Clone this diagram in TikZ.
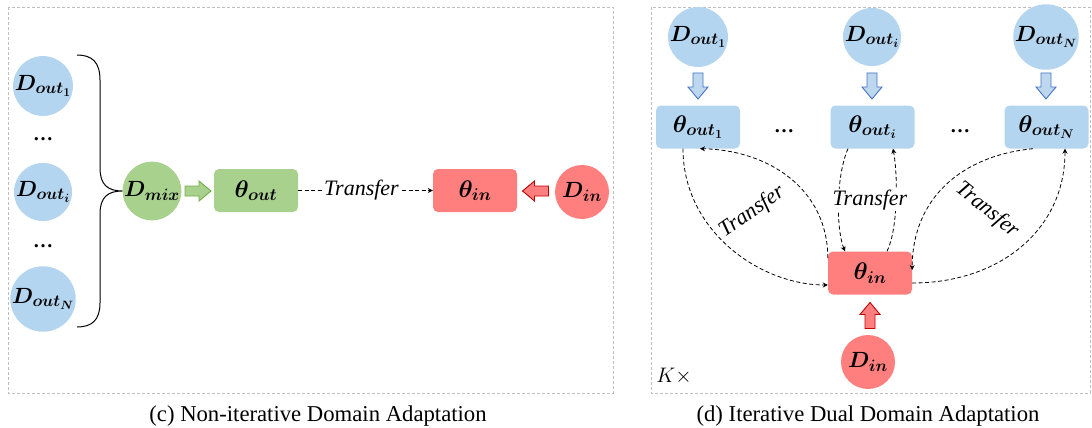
\RequirePackage{fix-cm}
\documentclass[tikz,border=0pt]{standalone}
\usepackage{amsmath}
\usepackage{bm}
\usepackage{fontspec}
\setmainfont{Liberation Serif}
\newfontfamily\serifx{Liberation Serif}
\DeclareMathSizes{22}{22}{16.5}{12}
\DeclareMathSizes{24}{24}{17}{12.5}
\DeclareMathSizes{21}{21}{15}{11}
\usetikzlibrary{arrows.meta,calc}
\definecolor{cblue}{HTML}{B4D5F0}
\definecolor{cbluearr}{HTML}{BDD7EE}
\definecolor{cgreen}{HTML}{A9D18E}
\definecolor{cred}{HTML}{FF7F7F}
\definecolor{bdark}{HTML}{4472C4}
\definecolor{gdark}{HTML}{70AD47}
\definecolor{rdark}{HTML}{C00000}
\definecolor{framegray}{HTML}{BFBFBF}
\tikzset{
  circ/.style={circle, minimum size=54pt, inner sep=0pt, font=\fontsize{22}{26}\selectfont},
  bcirc/.style={circ, fill=cblue},
  pbox/.style={rectangle, rounded corners=5pt, minimum width=84pt, minimum height=43pt, inner sep=0pt, font=\fontsize{24}{28}\selectfont},
  transfer/.style={dash pattern=on 4pt off 2.5pt, line width=0.8pt, -{Stealth[length=5pt,width=5pt]}},
  lbl/.style={font=\serifx\fontsize{22}{26}\selectfont\itshape, inner sep=1pt},
  dotsn/.style={font=\serifx\fontsize{20}{24}\selectfont\bfseries, anchor=base, inner sep=0pt},
  panel/.style={draw=framegray, dash pattern=on 3pt off 2pt, line width=0.8pt},
  caption/.style={font=\serifx\fontsize{22.7}{26}\selectfont, anchor=base},
  blockarr/.pic={\draw[pic actions, line width=0.9pt, line join=miter] (-13,-5) -- (1,-5) -- (1,-10) -- (13,0) -- (1,10) -- (1,5) -- (-13,5) -- cycle;}
}
\begin{document}
\begin{tikzpicture}[x=1pt,y=-1pt]
\useasboundingbox (0,0) rectangle (1092,428);
% panels
\draw[panel] (8,7) rectangle (613,393);
\draw[panel] (651,7) rectangle (1090,393);
% ---------- left panel ----------
\node[bcirc] (lo1) at (43,86) {$\bm{D_{out_1}}$};
\node[dotsn] (ld1) at (43,140) {…};
\node[bcirc] (loi) at (43,192) {$\bm{D_{out_i}}$};
\node[dotsn] (ld2) at (43,247) {…};
\node[bcirc] (loN) at (43,299) {$\bm{D_{out_N}}$};
\node[circ, fill=cgreen] (dmix) at (152,191) {$\bm{D_{mix}}$};
\draw[line width=1pt] (77,55) .. controls (92,55) and (100,62) .. (100,80) -- (100,168)
  .. controls (100,185) and (108,191) .. (dmix.west)
  .. controls (108,191) and (100,197) .. (100,214) -- (100,303)
  .. controls (100,320) and (92,327) .. (77,327);
\pic[draw=gdark, fill=cgreen] at (198,191) {blockarr};
\node[pbox, fill=cgreen] (thout) at (256,190.5) {$\bm{\theta_{out}}$};
\node[pbox, fill=cred] (thinL) at (475,190.5) {$\bm{\theta_{in}}$};
\node[circ, fill=cred] (dinL) at (582,192) {$\bm{D_{in}}$};
\pic[draw=rdark, fill=cred, rotate=180] at (535.5,191) {blockarr};
\draw[transfer] (thout) -- node[lbl, fill=white, pos=0.47] (tl) {Transfer} (thinL);
% ---------- right panel ----------
\node[bcirc] (ro1) at (698,37) {$\bm{D_{out_1}}$};
\node[bcirc] (roi) at (872,37) {$\bm{D_{out_i}}$};
\node[bcirc] (roN) at (1046,37) {$\bm{D_{out_N}}$};
\pic[draw=bdark, fill=cbluearr, rotate=-90] at (698,86) {blockarr};
\pic[draw=bdark, fill=cbluearr, rotate=-90] at (872,86) {blockarr};
\pic[draw=bdark, fill=cbluearr, rotate=-90] at (1046,86) {blockarr};
\node[pbox, fill=cblue] (to1) at (698,127) {$\bm{\theta_{out_1}}$};
\node[pbox, fill=cblue] (toi) at (872.5,127) {$\bm{\theta_{out_i}}$};
\node[pbox, fill=cblue] (toN) at (1046.5,127) {$\bm{\theta_{out_N}}$};
\node[dotsn] (rd1) at (784,132) {…};
\node[dotsn] (rd2) at (960,132) {…};
\node[pbox, fill=cred] (tin) at (870,273) {$\bm{\theta_{in}}$};
\pic[draw=rdark, fill=cred, rotate=90] at (870,315.5) {blockarr};
\node[circ, fill=cred] (din) at (868,362) {$\bm{D_{in}}$};
\node[font=\fontsize{21}{24}\selectfont, inner sep=0pt] (kx) at (674,376) {$K{\times}$};
% transfer curves
\draw[transfer] ($(to1.south)+(-15,0)$) .. controls +(0,82) and +(-68,0) .. ($(tin.west)+(0,12)$);
\draw[transfer] ($(tin.west)+(0,-15)$) .. controls +(0,-68) and +(70,1.5) .. ($(to1.south)+(2,0)$);
\draw[transfer] ($(toi.south)+(-24.5,0)$) .. controls +(-12,27) and +(-9,-22) .. ($(tin.north)+(-25,0)$);
\draw[transfer] ($(tin.north)+(17,0)$) .. controls +(11,-22) and +(5,27) .. ($(toi.south)+(20.5,0)$);
\draw[transfer] ($(toN.south)+(-13.5,0)$) .. controls +(-73,7) and +(0,-70) .. ($(tin.east)+(0,-3)$);
\draw[transfer] ($(tin.east)+(0,10)$) .. controls +(87,0) and +(0,81.5) .. ($(toN.south)+(18.5,0)$);
\node[lbl, rotate=35] (t1) at (752,212) {Transfer};
\node[lbl, fill=white] (t2) at (870,200) {Transfer};
\node[lbl, rotate=-39] (t3) at (987,210) {Transfer};
% captions
\node[caption] (capc) at (318,421) {(c) Non-iterative Domain Adaptation};
\node[caption] (capd) at (868,421) {(d) Iterative Dual Domain Adaptation};
\end{tikzpicture}
\end{document}
